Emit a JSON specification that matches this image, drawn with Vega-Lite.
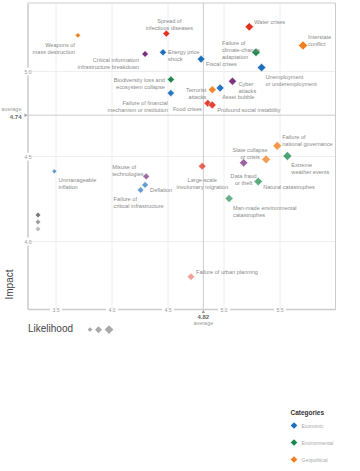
{
  "$schema": "https://vega.github.io/schema/vega-lite/v6.json",
  "padding": {"left": 1.5, "top": 2, "right": 0, "bottom": 0},
  "background": "white",
  "config": {
    "font": "Liberation Sans",
    "view": {"stroke": null},
    "legend": {"padding": 0}
  },
  "datasets": {
    "risks": [
      {"risk": "Weapons of mass destruction", "label": "Weapons of\nmass destruction", "category": "Geopolitical", "likelihood": 3.70, "impact": 5.21},
      {"risk": "Spread of infectious diseases", "label": "Spread of\ninfectious diseases", "category": "Societal", "likelihood": 4.49, "impact": 5.22},
      {"risk": "Critical information infrastructure breakdown", "label": "Critical information\ninfrastructure breakdown", "category": "Technological", "likelihood": 4.30, "impact": 5.10},
      {"risk": "Energy price shock", "label": "Energy price\nshock", "category": "Economic", "likelihood": 4.46, "impact": 5.11},
      {"risk": "Biodiversity loss and ecosystem collapse", "label": "Biodiversity loss and\necosystem collapse", "category": "Environmental", "likelihood": 4.53, "impact": 4.95},
      {"risk": "Failure of financial mechanism or institution", "label": "Failure of financial\nmechanism or institution", "category": "Economic", "likelihood": 4.53, "impact": 4.87},
      {"risk": "Water crises", "label": "Water crises", "category": "Societal", "likelihood": 5.23, "impact": 5.26},
      {"risk": "Interstate conflict", "label": "Interstate\nconflict", "category": "Geopolitical", "likelihood": 5.71, "impact": 5.15},
      {"risk": "Failure of climate-change adaptation", "label": "Failure of\nclimate-change\nadaptation", "category": "Environmental", "likelihood": 5.29, "impact": 5.11},
      {"risk": "Fiscal crises", "label": "Fiscal crises", "category": "Economic", "likelihood": 4.80, "impact": 5.07},
      {"risk": "Unemployment or underemployment", "label": "Unemployment\nor underemployment", "category": "Economic", "likelihood": 5.34, "impact": 5.02},
      {"risk": "Cyber attacks", "label": "Cyber\nattacks", "category": "Technological", "likelihood": 5.08, "impact": 4.94},
      {"risk": "Terrorist attacks", "label": "Terrorist\nattacks", "category": "Geopolitical", "likelihood": 4.90, "impact": 4.89},
      {"risk": "Asset bubble", "label": "Asset bubble", "category": "Economic", "likelihood": 4.97, "impact": 4.90},
      {"risk": "Food crises", "label": "Food crises", "category": "Societal", "likelihood": 4.86, "impact": 4.81},
      {"risk": "Profound social instability", "label": "Profound social instability", "category": "Societal", "likelihood": 4.90, "impact": 4.80},
      {"risk": "Failure of national governance", "label": "Failure of\nnational governance", "category": "Geopolitical", "likelihood": 5.48, "impact": 4.56},
      {"risk": "State collapse or crisis", "label": "State collapse\nor crisis", "category": "Geopolitical", "likelihood": 5.38, "impact": 4.48},
      {"risk": "Extreme weather events", "label": "Extreme\nweather events", "category": "Environmental", "likelihood": 5.57, "impact": 4.50},
      {"risk": "Large-scale involuntary migration", "label": "Large-scale\ninvoluntary migration", "category": "Societal", "likelihood": 4.81, "impact": 4.44},
      {"risk": "Data fraud or theft", "label": "Data fraud\nor theft", "category": "Technological", "likelihood": 5.18, "impact": 4.46},
      {"risk": "Natural catastrophes", "label": "Natural catastrophes", "category": "Environmental", "likelihood": 5.31, "impact": 4.35},
      {"risk": "Man-made environmental catastrophes", "label": "Man-made environmental\ncatastrophes", "category": "Environmental", "likelihood": 5.05, "impact": 4.25},
      {"risk": "Failure of urban planning", "label": "Failure of urban planning", "category": "Societal", "likelihood": 4.71, "impact": 3.79},
      {"risk": "Unmanageable inflation", "label": "Unmanageable\ninflation", "category": "Economic", "likelihood": 3.49, "impact": 4.41},
      {"risk": "Misuse of technologies", "label": "Misuse of\ntechnologies", "category": "Technological", "likelihood": 4.31, "impact": 4.38},
      {"risk": "Deflation", "label": "Deflation", "category": "Economic", "likelihood": 4.30, "impact": 4.33},
      {"risk": "Failure of critical infrastructure", "label": "Failure of\ncritical infrastructure", "category": "Economic", "likelihood": 4.26, "impact": 4.30}
    ],
    "avg": [{"likelihood": 4.82, "impact": 4.74}]
  },
  "spacing": -21,
  "vconcat": [
    {
      "width": 308,
      "height": 306,
      "layer": [
        {"data": {"name": "avg"}, "mark": {"type": "rule", "color": "#cccccc", "strokeWidth": 1}, "encoding": {"x": {"field": "likelihood", "type": "quantitative"}}},
        {"data": {"name": "avg"}, "mark": {"type": "rule", "color": "#cccccc", "strokeWidth": 1}, "encoding": {"y": {"field": "impact", "type": "quantitative"}}},
        {"data": {"name": "avg"}, "mark": {"type": "rule", "color": "#cccccc", "strokeWidth": 1}, "encoding": {"y": {"datum": 5.4, "type": "quantitative"}}},
        {"data": {"name": "avg"}, "mark": {"type": "rule", "color": "#cccccc", "strokeWidth": 1}, "encoding": {"x": {"datum": 6.0, "type": "quantitative"}}},
        {
          "data": {"name": "risks"},
          "mark": {"type": "point", "shape": "diamond", "filled": true, "stroke": "white", "strokeWidth": 0.5},
          "encoding": {
            "x": {
              "field": "likelihood", "type": "quantitative",
              "scale": {"domain": [3.25, 6.0], "nice": false, "zero": false},
              "axis": {
                "values": [3.5, 4, 4.5, 5, 5.5], "format": ".1f",
                "grid": true, "gridColor": "#eeeeee", "gridWidth": 1,
                "domain": true, "domainColor": "#cccccc", "domainWidth": 1.5,
                "domainDash": [22, 12, 44, 12, 44, 12, 44, 12, 44, 12, 60],
                "ticks": false, "tickSize": 0,
                "labelPadding": 0, "labelBaseline": "middle", "labelFontSize": 5, "labelColor": "#999999",
                "labelFlush": false, "labelOverlap": false,
                "title": "Likelihood", "titleAnchor": "start", "titleAlign": "left", "titleX": 0, "titleY": 19,
                "titleBaseline": "middle", "titleFontSize": 10, "titleFontWeight": "normal", "titleColor": "#444444"
              }
            },
            "y": {
              "field": "impact", "type": "quantitative",
              "scale": {"domain": [3.6, 5.4], "nice": false, "zero": false},
              "axis": {
                "values": [4, 4.5, 5], "format": ".1f",
                "grid": true, "gridColor": "#eeeeee", "gridWidth": 1,
                "domain": true, "domainColor": "#cccccc", "domainWidth": 1.5,
                "domainDash": [64, 8, 77, 8, 77, 8, 80],
                "ticks": false, "tickSize": 0,
                "labelPadding": 0, "labelAlign": "center", "labelBaseline": "middle", "labelFontSize": 5, "labelColor": "#999999",
                "labelFlush": false, "labelOverlap": false,
                "title": "Impact", "titleX": -18, "titleY": 281, "titleAngle": 270, "titleAlign": "center",
                "titleBaseline": "middle", "titleFontSize": 10, "titleFontWeight": "normal", "titleColor": "#444444"
              }
            },
            "color": {
              "field": "category", "type": "nominal",
              "scale": {"domain": ["Economic", "Environmental", "Geopolitical", "Societal", "Technological"], "range": ["#1f6fbd", "#17884a", "#ef7f1f", "#e3301f", "#7b2d7e"]},
              "legend": {
                "orient": "none", "legendX": 263, "legendY": 406.5, "title": "Categories",
                "titleFontSize": 6.5, "titleColor": "#333333", "titleFontWeight": "bold", "titlePadding": 6,
                "symbolType": "diamond", "symbolSize": 45, "symbolStrokeWidth": 0, "symbolOpacity": 1,
                "labelFontSize": 5, "labelColor": "#aaaaaa", "labelOffset": 4, "rowPadding": 10
              }
            },
            "size": {
              "field": "likelihood", "type": "quantitative",
              "scale": {"domain": [3.4, 5.8], "range": [20, 85]},
              "legend": {
                "orient": "none", "legendX": 60, "legendY": 322, "direction": "horizontal", "title": null,
                "values": [3.5, 4.5, 5.5], "symbolType": "diamond", "symbolFillColor": "#aaaaaa",
                "symbolStrokeWidth": 0, "symbolOpacity": 1, "labelExpr": "''", "labelOffset": 0, "labelFontSize": 1, "columnPadding": 2
              }
            },
            "opacity": {
              "field": "impact", "type": "quantitative",
              "scale": {"domain": [3.7, 5.0], "range": [0.4, 1], "clamp": true},
              "legend": {
                "orient": "none", "legendX": 8, "legendY": 209.5, "direction": "vertical", "title": null,
                "values": [5.0, 4.4, 3.9], "symbolType": "diamond", "symbolFillColor": "#777777", "symbolSize": 25,
                "symbolStrokeWidth": 0, "labelExpr": "''", "labelOffset": 0, "labelFontSize": 1, "rowPadding": 2
              }
            }
          }
        },
        {"data": {"name": "risks"}, "transform": [{"filter": {"field": "risk", "oneOf": ["Water crises", "Failure of urban planning"]}}],
         "mark": {"type": "text", "align": "left", "baseline": "middle", "dx": 5, "dy": -5, "fontSize": 5.6, "lineHeight": 7, "lineBreak": "\n", "color": "#8a8a8a"},
         "encoding": {"x": {"field": "likelihood", "type": "quantitative"}, "y": {"field": "impact", "type": "quantitative"}, "text": {"field": "label"}}},
        {"data": {"name": "risks"}, "transform": [{"filter": {"field": "risk", "oneOf": ["Energy price shock"]}}],
         "mark": {"type": "text", "align": "left", "baseline": "middle", "dx": 5, "dy": 0, "fontSize": 5.6, "lineHeight": 7, "lineBreak": "\n", "color": "#8a8a8a"},
         "encoding": {"x": {"field": "likelihood", "type": "quantitative"}, "y": {"field": "impact", "type": "quantitative"}, "text": {"field": "label"}}},
        {"data": {"name": "risks"}, "transform": [{"filter": {"field": "risk", "oneOf": ["Cyber attacks"]}}],
         "mark": {"type": "text", "align": "left", "baseline": "middle", "dx": 6, "dy": 2.5, "fontSize": 5.6, "lineHeight": 7, "lineBreak": "\n", "color": "#8a8a8a"},
         "encoding": {"x": {"field": "likelihood", "type": "quantitative"}, "y": {"field": "impact", "type": "quantitative"}, "text": {"field": "label"}}},
        {"data": {"name": "risks"}, "transform": [{"filter": {"field": "risk", "oneOf": ["Fiscal crises", "Natural catastrophes", "Deflation", "Profound social instability"]}}],
         "mark": {"type": "text", "align": "left", "baseline": "middle", "dx": 5, "dy": 5, "fontSize": 5.6, "lineHeight": 7, "lineBreak": "\n", "color": "#8a8a8a"},
         "encoding": {"x": {"field": "likelihood", "type": "quantitative"}, "y": {"field": "impact", "type": "quantitative"}, "text": {"field": "label"}}},
        {"data": {"name": "risks"}, "transform": [{"filter": {"field": "risk", "oneOf": ["Asset bubble"]}}],
         "mark": {"type": "text", "align": "left", "baseline": "middle", "dx": 2, "dy": 8.5, "fontSize": 5.6, "lineHeight": 7, "lineBreak": "\n", "color": "#8a8a8a"},
         "encoding": {"x": {"field": "likelihood", "type": "quantitative"}, "y": {"field": "impact", "type": "quantitative"}, "text": {"field": "label"}}},
        {"data": {"name": "risks"}, "transform": [{"filter": {"field": "risk", "oneOf": ["Unemployment or underemployment", "Extreme weather events", "Man-made environmental catastrophes", "Unmanageable inflation"]}}],
         "mark": {"type": "text", "align": "left", "baseline": "middle", "dx": 4, "dy": 9, "fontSize": 5.6, "lineHeight": 7, "lineBreak": "\n", "color": "#8a8a8a"},
         "encoding": {"x": {"field": "likelihood", "type": "quantitative"}, "y": {"field": "impact", "type": "quantitative"}, "text": {"field": "label"}}},
        {"data": {"name": "risks"}, "transform": [{"filter": {"field": "risk", "oneOf": ["Interstate conflict", "Failure of national governance"]}}],
         "mark": {"type": "text", "align": "left", "baseline": "middle", "dx": 5, "dy": -9, "fontSize": 5.6, "lineHeight": 7, "lineBreak": "\n", "color": "#8a8a8a"},
         "encoding": {"x": {"field": "likelihood", "type": "quantitative"}, "y": {"field": "impact", "type": "quantitative"}, "text": {"field": "label"}}},
        {"data": {"name": "risks"}, "transform": [{"filter": {"field": "risk", "oneOf": ["Biodiversity loss and ecosystem collapse", "Terrorist attacks"]}}],
         "mark": {"type": "text", "align": "right", "baseline": "middle", "dx": -6, "dy": 0, "fontSize": 5.6, "lineHeight": 7, "lineBreak": "\n", "color": "#8a8a8a"},
         "encoding": {"x": {"field": "likelihood", "type": "quantitative"}, "y": {"field": "impact", "type": "quantitative"}, "text": {"field": "label"}}},
        {"data": {"name": "risks"}, "transform": [{"filter": {"field": "risk", "oneOf": ["Critical information infrastructure breakdown", "Food crises"]}}],
         "mark": {"type": "text", "align": "right", "baseline": "middle", "dx": -6, "dy": 6, "fontSize": 5.6, "lineHeight": 7, "lineBreak": "\n", "color": "#8a8a8a"},
         "encoding": {"x": {"field": "likelihood", "type": "quantitative"}, "y": {"field": "impact", "type": "quantitative"}, "text": {"field": "label"}}},
        {"data": {"name": "risks"}, "transform": [{"filter": {"field": "risk", "oneOf": ["Weapons of mass destruction", "Failure of financial mechanism or institution"]}}],
         "mark": {"type": "text", "align": "right", "baseline": "middle", "dx": -3, "dy": 9.5, "fontSize": 5.6, "lineHeight": 7, "lineBreak": "\n", "color": "#8a8a8a"},
         "encoding": {"x": {"field": "likelihood", "type": "quantitative"}, "y": {"field": "impact", "type": "quantitative"}, "text": {"field": "label"}}},
        {"data": {"name": "risks"}, "transform": [{"filter": {"field": "risk", "oneOf": ["Spread of infectious diseases"]}}],
         "mark": {"type": "text", "align": "center", "baseline": "middle", "dx": 3, "dy": -12.5, "fontSize": 5.6, "lineHeight": 7, "lineBreak": "\n", "color": "#8a8a8a"},
         "encoding": {"x": {"field": "likelihood", "type": "quantitative"}, "y": {"field": "impact", "type": "quantitative"}, "text": {"field": "label"}}},
        {"data": {"name": "risks"}, "transform": [{"filter": {"field": "risk", "oneOf": ["State collapse or crisis"]}}],
         "mark": {"type": "text", "align": "center", "baseline": "middle", "dx": -16, "dy": -9.5, "fontSize": 5.6, "lineHeight": 7, "lineBreak": "\n", "color": "#8a8a8a"},
         "encoding": {"x": {"field": "likelihood", "type": "quantitative"}, "y": {"field": "impact", "type": "quantitative"}, "text": {"field": "label"}}},
        {"data": {"name": "risks"}, "transform": [{"filter": {"field": "risk", "oneOf": ["Large-scale involuntary migration", "Data fraud or theft"]}}],
         "mark": {"type": "text", "align": "center", "baseline": "middle", "dx": 0, "dy": 13.5, "fontSize": 5.6, "lineHeight": 7, "lineBreak": "\n", "color": "#8a8a8a"},
         "encoding": {"x": {"field": "likelihood", "type": "quantitative"}, "y": {"field": "impact", "type": "quantitative"}, "text": {"field": "label"}}},
        {"data": {"name": "risks"}, "transform": [{"filter": {"field": "risk", "oneOf": ["Failure of climate-change adaptation", "Misuse of technologies"]}}],
         "mark": {"type": "text", "align": "left", "baseline": "middle", "dx": -34, "dy": -9, "fontSize": 5.6, "lineHeight": 7, "lineBreak": "\n", "color": "#8a8a8a"},
         "encoding": {"x": {"field": "likelihood", "type": "quantitative"}, "y": {"field": "impact", "type": "quantitative"}, "text": {"field": "label"}}},
        {"data": {"name": "risks"}, "transform": [{"filter": {"field": "risk", "oneOf": ["Failure of critical infrastructure"]}}],
         "mark": {"type": "text", "align": "left", "baseline": "middle", "dx": -27, "dy": 9, "fontSize": 5.6, "lineHeight": 7, "lineBreak": "\n", "color": "#8a8a8a"},
         "encoding": {"x": {"field": "likelihood", "type": "quantitative"}, "y": {"field": "impact", "type": "quantitative"}, "text": {"field": "label"}}},
        {"data": {"name": "avg"}, "mark": {"type": "point", "shape": "triangle-up", "filled": true, "size": 12, "color": "#999999", "opacity": 1, "yOffset": 2.5},
         "encoding": {"x": {"field": "likelihood", "type": "quantitative"}, "y": {"datum": 3.6, "type": "quantitative"}}},
        {"data": {"name": "avg"}, "mark": {"type": "text", "baseline": "middle", "dy": 8, "fontSize": 6, "fontWeight": "bold", "color": "#666666"},
         "encoding": {"x": {"field": "likelihood", "type": "quantitative"}, "y": {"datum": 3.6, "type": "quantitative"}, "text": {"field": "likelihood", "type": "quantitative", "format": ".2f"}}},
        {"data": {"name": "avg"}, "mark": {"type": "text", "baseline": "middle", "dy": 13.5, "fontSize": 5.5, "color": "#999999"},
         "encoding": {"x": {"field": "likelihood", "type": "quantitative"}, "y": {"datum": 3.6, "type": "quantitative"}, "text": {"value": "average"}}},
        {"data": {"name": "avg"}, "mark": {"type": "point", "shape": "triangle-right", "filled": true, "size": 12, "color": "#999999", "opacity": 1, "xOffset": -1.5},
         "encoding": {"x": {"datum": 3.25, "type": "quantitative"}, "y": {"field": "impact", "type": "quantitative"}}},
        {"data": {"name": "avg"}, "mark": {"type": "text", "align": "right", "baseline": "middle", "dx": -6, "dy": -6.5, "fontSize": 5.5, "color": "#999999"},
         "encoding": {"x": {"datum": 3.25, "type": "quantitative"}, "y": {"field": "impact", "type": "quantitative"}, "text": {"value": "average"}}},
        {"data": {"name": "avg"}, "mark": {"type": "text", "align": "right", "baseline": "middle", "dx": -6, "dy": 1.5, "fontSize": 6, "fontWeight": "bold", "color": "#666666"},
         "encoding": {"x": {"datum": 3.25, "type": "quantitative"}, "y": {"field": "impact", "type": "quantitative"}, "text": {"field": "impact", "type": "quantitative", "format": ".2f"}}}
      ]
    }
  ]
}
